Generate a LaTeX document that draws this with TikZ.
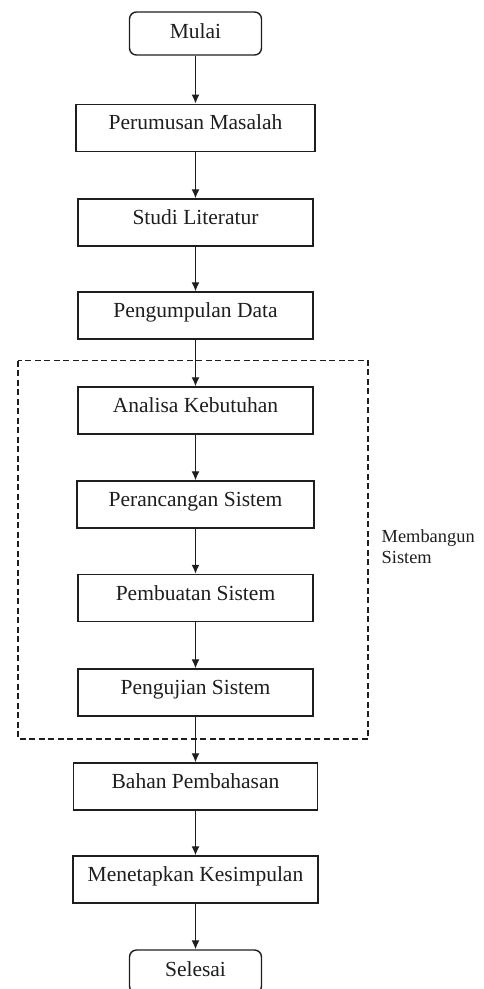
\documentclass[tikz,border=0pt]{standalone}
\usepackage{fontspec}
\setmainfont{Liberation Serif}
\usetikzlibrary{arrows.meta}
\definecolor{ink}{HTML}{1E1E1E}
\begin{document}
\begin{tikzpicture}[x=1pt,y=-1pt,
  stepbox/.style={draw=ink,line width=1.4pt,inner sep=0pt,minimum height=47pt,
    text=ink,font=\fontsize{21.5}{24}\selectfont,text height=10pt,text depth=6pt},
  termbox/.style={stepbox,rounded corners=7pt,minimum height=43pt,minimum width=132pt,
    text height=13pt,text depth=3pt},
  flow/.style={draw=ink,line width=1.3pt,-{Latex[length=9pt,width=8pt]}},
  groupbox/.style={draw=ink,line width=1.2pt,dash pattern=on 6pt off 3.5pt}]
\useasboundingbox (0,0) rectangle (483,989);
\clip (0,0) rectangle (483,989);
\node[termbox] (mulai) at (195.5,33.5) {Mulai};
\node[stepbox,minimum width=239pt] (rumus) at (195.5,127.8) {Perumusan Masalah};
\node[stepbox,minimum width=235pt] (studi) at (195.5,222.5) {Studi Literatur};
\node[stepbox,minimum width=235pt] (kumpul) at (195.5,315.5) {Pengumpulan Data};
\node[stepbox,minimum width=235pt] (analisa) at (195.5,410.5) {Analisa Kebutuhan};
\node[stepbox,minimum width=237pt] (rancang) at (195.5,504.5) {Perancangan Sistem};
\node[stepbox,minimum width=235pt] (buat) at (195.5,598) {Pembuatan Sistem};
\node[stepbox,minimum width=235pt] (uji) at (195.5,692.5) {Pengujian Sistem};
\node[stepbox,minimum width=244pt] (bahan) at (195.5,786.5) {Bahan Pembahasan};
\node[stepbox,minimum width=245pt] (tetap) at (195.5,879.5) {Menetapkan Kesimpulan};
\node[termbox] (selesai) at (195.5,971.5) {Selesai};
\coordinate (gtl) at (18,360.5);
\coordinate (gbr) at (368,739);
\draw[groupbox] (gtl) rectangle (gbr);
\node[anchor=west,align=left,inner sep=0pt,text=ink,font=\fontsize{18.4}{20.5}\selectfont] (grp) at (381.5,546.7) {Membangun\\Sistem};
\draw[flow] (mulai) -- (rumus);
\draw[flow] (rumus) -- (studi);
\draw[flow] (studi) -- (kumpul);
\draw[flow] (kumpul) -- (analisa);
\draw[flow] (analisa) -- (rancang);
\draw[flow] (rancang) -- (buat);
\draw[flow] (buat) -- (uji);
\draw[flow] (uji) -- (bahan);
\draw[flow] (bahan) -- (tetap);
\draw[flow] (tetap) -- (selesai);
\end{tikzpicture}
\end{document}
